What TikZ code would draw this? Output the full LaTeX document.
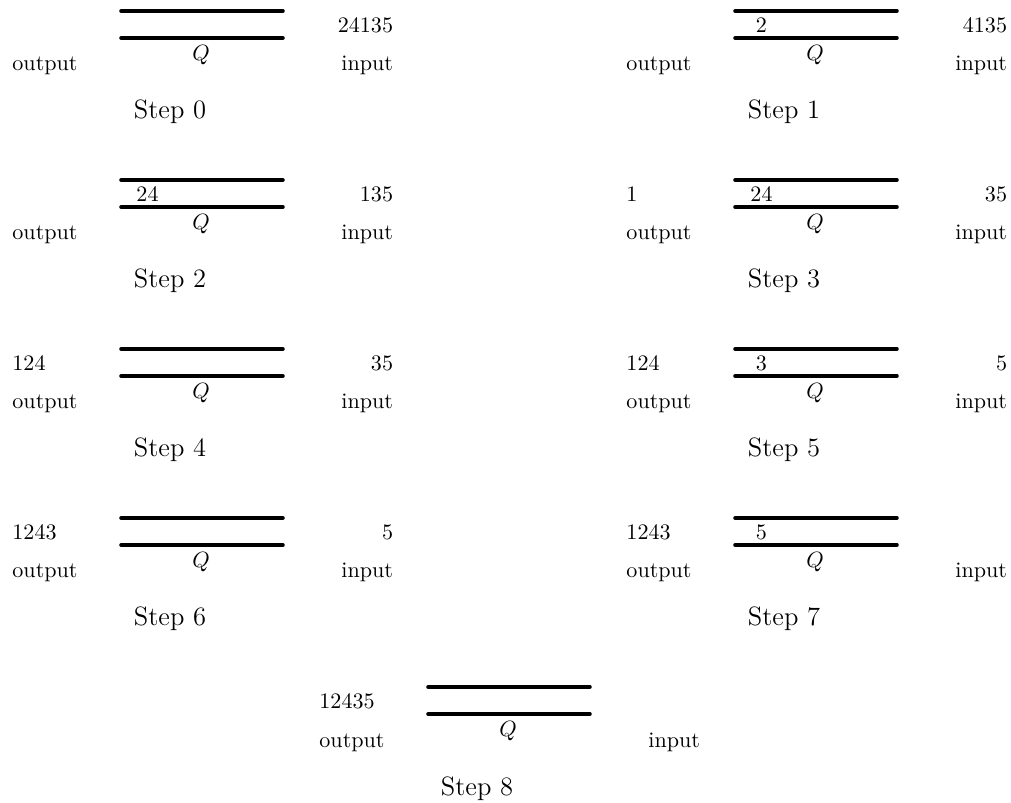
\documentclass[tikz,border=0pt]{standalone}
\tikzset{
  rail/.style={line width=1.6pt, line cap=round},
  lbl/.style={inner sep=0pt, font=\normalsize},
  steplbl/.style={inner sep=0pt, font=\large},
}
% One snapshot of the queue Q:
% #1 name prefix, #2/#3 offset, #4 step number,
% #5 text already output, #6 contents of Q, #7 text still to input
\newcommand\queuepanel[7]{%
  \begin{scope}[shift={(#2,#3)}]
    \coordinate (#1-tl) at (121,11);
    \coordinate (#1-tr) at (283,11);
    \coordinate (#1-bl) at (121,38);
    \coordinate (#1-br) at (283,38);
    \draw[rail] (#1-tl) -- (#1-tr);
    \draw[rail] (#1-bl) -- (#1-br);
    \node[lbl] (#1-q) at (201,55) {$Q$};
    \node[lbl, anchor=base west] (#1-outlbl) at (12,71) {output};
    \node[lbl, anchor=base east] (#1-inlbl) at (393.5,71) {input};
    \node[steplbl, anchor=base] (#1-step) at (170,119) {Step #4};
    \if\relax\detokenize{#5}\relax\else
      \node[lbl, anchor=base west] (#1-out) at (12,32.5) {#5};\fi
    \if\relax\detokenize{#6}\relax\else
      \node[lbl, anchor=base] (#1-mid) at (147.5,32.5) {#6};\fi
    \if\relax\detokenize{#7}\relax\else
      \node[lbl, anchor=base east] (#1-in) at (393.5,32.5) {#7};\fi
  \end{scope}}
\begin{document}
\begin{tikzpicture}[x=0.4524pt, y=-0.4524pt]
  \path[use as bounding box] (0,0) rectangle (1011,803);
  \queuepanel{s0}{0}{0}{0}{}{}{24135}
  \queuepanel{s1}{614}{0}{1}{}{2}{4135}
  \queuepanel{s2}{0}{169}{2}{}{24}{135}
  \queuepanel{s3}{614}{169}{3}{1}{24}{35}
  \queuepanel{s4}{0}{338}{4}{124}{}{35}
  \queuepanel{s5}{614}{338}{5}{124}{3}{5}
  \queuepanel{s6}{0}{507}{6}{1243}{}{5}
  \queuepanel{s7}{614}{507}{7}{1243}{5}{}
  \queuepanel{s8}{307}{676}{8}{12435}{}{}
\end{tikzpicture}
\end{document}
